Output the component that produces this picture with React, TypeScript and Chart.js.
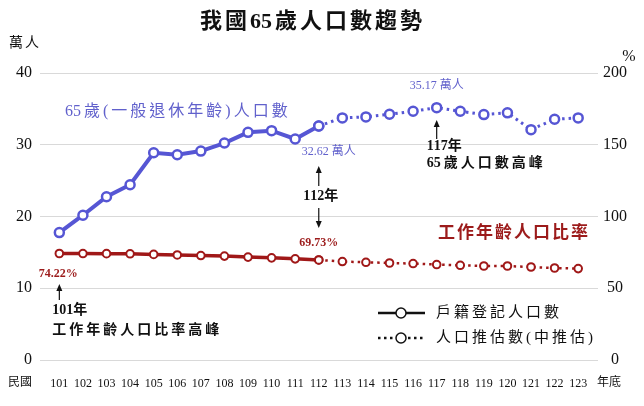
import React, { useEffect, useRef } from "react";
import { Chart, registerables } from "chart.js";

Chart.register(...registerables);

// ---- data ----
const years = [101, 102, 103, 104, 105, 106, 107, 108, 109, 110, 111, 112, 113, 114, 115, 116, 117, 118, 119, 120, 121, 122, 123];
const actualYears = [101, 102, 103, 104, 105, 106, 107, 108, 109, 110, 111, 112];
const projYears = [112, 113, 114, 115, 116, 117, 118, 119, 120, 121, 122, 123];
// 65歲人口數 (萬人)
const elderlyActual = [17.76, 20.18, 22.75, 24.43, 28.88, 28.6, 29.12, 30.24, 31.73, 31.96, 30.8, 32.62];
const elderlyProjected = [32.62, 33.74, 33.88, 34.25, 34.67, 35.17, 34.67, 34.2, 34.45, 32.1, 33.55, 33.74];
// 工作年齡人口比率 (%)
const workingActual = [74.22, 74.2, 74.1, 74.0, 73.6, 73.2, 72.8, 72.4, 71.7, 71.2, 70.5, 69.73];
const workingProjected = [69.73, 68.6, 68.1, 67.6, 67.2, 66.5, 66.0, 65.5, 65.5, 64.8, 64.1, 63.7];
const leftTicks = [0, 10, 20, 30, 40];
const rightTicks = [0, 50, 100, 150, 200];

const BLUE = "#5656d4";
const BLUE_TEXT = "#6161cc";
const RED = "#a01818";
const RED_TEXT = "#9c1b1b";
const FONT = "'Liberation Serif', 'Noto Sans CJK TC', serif";

const isTight = (c: string) => /[0-9A-Za-z.%]/.test(c);

function txt(ctx: CanvasRenderingContext2D, s: string, x: number, y: number, size: number, color: string, opts: { bold?: boolean; align?: CanvasTextAlign; spacing?: number } = {}) {
  ctx.save();
  ctx.font = `${opts.bold ? "bold " : ""}${size}px ${FONT}`;
  ctx.fillStyle = color;
  ctx.textAlign = "left";
  ctx.textBaseline = "middle";
  const sp = opts.spacing || 0;
  const chars = Array.from(s);
  const adv: number[] = chars.map((c, i) => {
    const w = ctx.measureText(c).width;
    const next = chars[i + 1];
    if (next === undefined) return w;
    if (isTight(c) && isTight(next)) return w;
    return w + sp;
  });
  const total = adv.reduce((a, b) => a + b, 0);
  let cx = x;
  if (opts.align === "center") cx = x - total / 2;
  else if (opts.align === "right") cx = x - total;
  chars.forEach((c, i) => {
    ctx.fillText(c, cx, y);
    cx += adv[i];
  });
  ctx.restore();
}

function arrow(ctx: CanvasRenderingContext2D, x: number, y1: number, y2: number) {
  ctx.save();
  ctx.strokeStyle = "#111";
  ctx.fillStyle = "#111";
  ctx.lineWidth = 1.2;
  const dir = Math.sign(y2 - y1);
  ctx.beginPath();
  ctx.moveTo(x, y1);
  ctx.lineTo(x, y2 - dir * 5);
  ctx.stroke();
  ctx.beginPath();
  ctx.moveTo(x, y2);
  ctx.lineTo(x - 3, y2 - dir * 7);
  ctx.lineTo(x + 3, y2 - dir * 7);
  ctx.closePath();
  ctx.fill();
  ctx.restore();
}

const annotations = {
  id: "annotations",
  afterDraw(chart: any) {
    const ctx: CanvasRenderingContext2D = chart.ctx;
    const xs = chart.scales.x;
    const x101 = xs.getPixelForValue(101);
    const x112 = xs.getPixelForValue(112);
    const x117 = xs.getPixelForValue(117);

    // title & units
    txt(ctx, "我國65歲人口數趨勢", 311, 22, 22, "#111", { bold: true, align: "center", spacing: 3 });
    txt(ctx, "萬人", 9, 43, 14, "#111", { spacing: 2 });
    txt(ctx, "%", 629, 57, 16, "#111", { align: "center" });
    txt(ctx, "民國", 8, 383, 12, "#111");
    txt(ctx, "年底", 597, 383, 12, "#111");

    // series labels
    txt(ctx, "65歲(一般退休年齡)人口數", 65, 112, 16, BLUE_TEXT, { spacing: 3 });
    txt(ctx, "工作年齡人口比率", 438, 234, 17, RED_TEXT, { bold: true, spacing: 2 });

    // 117 peak
    txt(ctx, "35.17 萬人", x117, 86, 12, BLUE_TEXT, { align: "center" });
    arrow(ctx, x117, 139, 120);
    txt(ctx, "117年", x117 - 10, 146, 14, "#111", { bold: true });
    txt(ctx, "65歲人口數高峰", x117 - 10, 163, 14, "#111", { bold: true, spacing: 3 });

    // 112
    txt(ctx, "32.62 萬人", x112 + 10, 152, 12, BLUE_TEXT, { align: "center" });
    arrow(ctx, x112, 186, 166);
    txt(ctx, "112年", x112 + 2, 196, 14, "#111", { bold: true, align: "center" });
    arrow(ctx, x112, 208, 228);
    txt(ctx, "69.73%", x112, 243, 12, RED_TEXT, { bold: true, align: "center" });

    // 101
    txt(ctx, "74.22%", x101 - 1, 274, 12, RED_TEXT, { bold: true, align: "center" });
    arrow(ctx, x101, 300, 284);
    txt(ctx, "101年", x101 - 7, 310, 14, "#111", { bold: true });
    txt(ctx, "工作年齡人口比率高峰", x101 - 7, 330, 14, "#111", { bold: true, spacing: 3 });

    // legend
    const lx1 = 378, lx2 = 425, lc = 401;
    const rows = [
      { y: 313, dash: [] as number[], label: "戶籍登記人口數" },
      { y: 338, dash: [2.5, 3.5], label: "人口推估數(中推估)" },
    ];
    rows.forEach((r) => {
      ctx.save();
      ctx.strokeStyle = "#111";
      ctx.lineWidth = 2.5;
      ctx.setLineDash(r.dash);
      ctx.beginPath();
      ctx.moveTo(lx1, r.y);
      ctx.lineTo(lx2, r.y);
      ctx.stroke();
      ctx.setLineDash([]);
      ctx.beginPath();
      ctx.arc(lc, r.y, 5, 0, Math.PI * 2);
      ctx.fillStyle = "#fff";
      ctx.fill();
      ctx.lineWidth = 1.5;
      ctx.stroke();
      ctx.restore();
      txt(ctx, r.label, 436, r.y, 15, "#111", { spacing: 3 });
    });
  },
};

const whiteBg = {
  id: "whiteBg",
  beforeDraw(chart: any) {
    const ctx = chart.ctx;
    ctx.save();
    ctx.fillStyle = "#fff";
    ctx.fillRect(0, 0, chart.width, chart.height);
    ctx.restore();
  },
};

export default function App() {
  const ref = useRef<HTMLCanvasElement>(null);
  useEffect(() => {
    if (!ref.current) return;
    const pts = (xs: number[], ys: number[]) => xs.map((x, i) => ({ x, y: ys[i] }));
    const chart = new Chart(ref.current, {
      type: "line",
      data: {
        datasets: [
          {
            data: pts(actualYears, elderlyActual),
            yAxisID: "y",
            borderColor: BLUE,
            borderWidth: 4,
            pointRadius: 4.5,
            pointBorderWidth: 2.5,
            pointBackgroundColor: "#fff",
            pointBorderColor: BLUE,
          },
          {
            data: pts(projYears, elderlyProjected),
            yAxisID: "y",
            borderColor: BLUE,
            borderWidth: 3,
            borderDash: [2.5, 4],
            pointRadius: 4.5,
            pointBorderWidth: 2.5,
            pointBackgroundColor: "#fff",
            pointBorderColor: BLUE,
          },
          {
            data: pts(actualYears, workingActual),
            yAxisID: "y2",
            borderColor: RED,
            borderWidth: 3.5,
            pointRadius: 3.8,
            pointBorderWidth: 2,
            pointBackgroundColor: "#fff",
            pointBorderColor: RED,
          },
          {
            data: pts(projYears, workingProjected),
            yAxisID: "y2",
            borderColor: RED,
            borderWidth: 2.5,
            borderDash: [2.5, 4],
            pointRadius: 3.8,
            pointBorderWidth: 2,
            pointBackgroundColor: "#fff",
            pointBorderColor: RED,
          },
        ],
      },
      options: {
        animation: false,
        responsive: true,
        maintainAspectRatio: false,
        layout: { padding: { top: 73, left: 0, right: 0, bottom: 0 } },
        plugins: { legend: { display: false }, tooltip: { enabled: false }, title: { display: false } },
        scales: {
          x: {
            type: "linear",
            min: 100.18,
            max: 123.84,
            afterBuildTicks: (s: any) => {
              s.ticks = years.map((v) => ({ value: v }));
            },
            afterFit: (s: any) => {
              s.height = 46;
            },
            grid: { display: false, drawTicks: false },
            border: { display: false },
            ticks: {
              autoSkip: false,
              maxRotation: 0,
              padding: 17,
              color: "#111",
              font: { family: FONT, size: 12 },
              callback: (v: any) => String(v),
            },
          },
          y: {
            position: "left",
            min: 0,
            max: 40,
            afterBuildTicks: (s: any) => {
              s.ticks = leftTicks.map((v) => ({ value: v }));
            },
            afterFit: (s: any) => {
              s.width = 40;
            },
            grid: { color: "#d9d9d9", lineWidth: 1, drawTicks: false },
            border: { display: false },
            ticks: { padding: 8, color: "#111", font: { family: FONT, size: 16 } },
          },
          y2: {
            position: "right",
            min: 0,
            max: 200,
            afterBuildTicks: (s: any) => {
              s.ticks = rightTicks.map((v) => ({ value: v }));
            },
            afterFit: (s: any) => {
              s.width = 46;
            },
            grid: { display: false, drawTicks: false, drawOnChartArea: false },
            border: { display: false },
            ticks: { padding: 5, crossAlign: "center", color: "#111", font: { family: FONT, size: 16 } },
          },
        },
      },
      plugins: [whiteBg, annotations],
    } as any);
    return () => chart.destroy();
  }, []);
  return (
    <div style={{ position: "fixed", left: 0, top: 0, width: 644, height: 406, background: "#fff" }}>
      <canvas ref={ref} />
    </div>
  );
}
